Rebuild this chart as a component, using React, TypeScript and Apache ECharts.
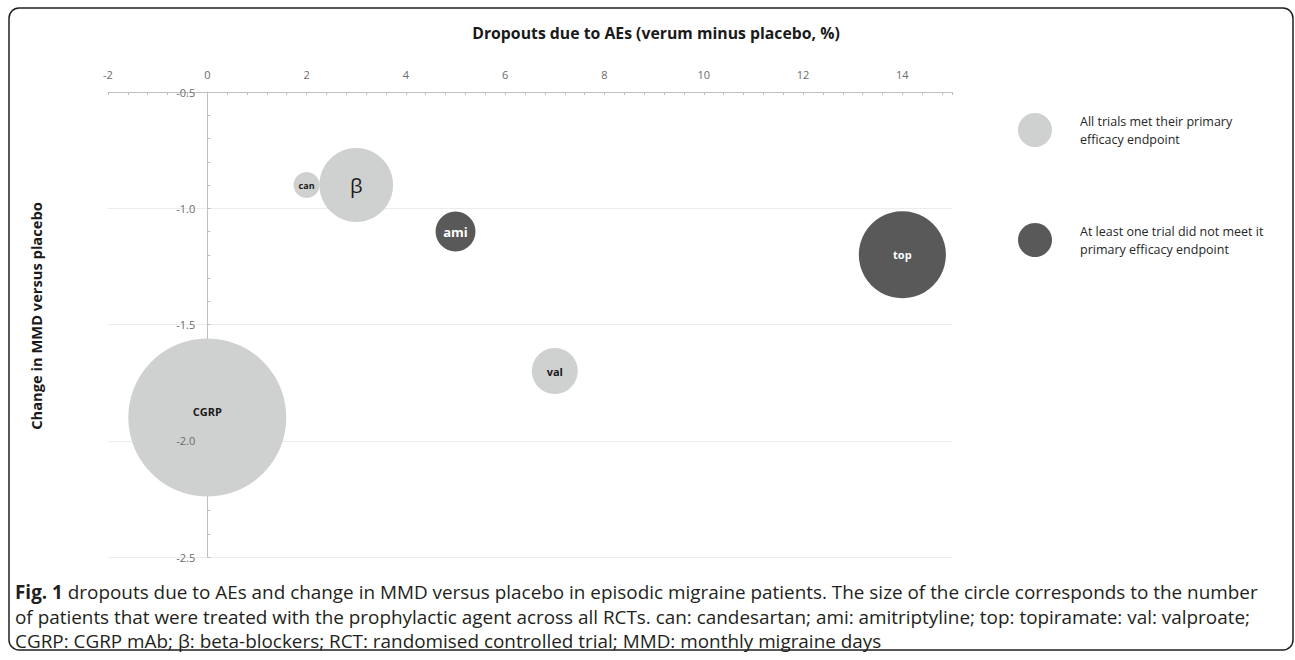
import React, { useEffect, useRef } from "react";
import * as echarts from "echarts";

// ---- data ----
const agents = ["can", "β", "ami", "top", "val", "CGRP"];
const dropoutsDiff = [2, 3, 5, 14, 7, 0]; // verum minus placebo, %
const mmdChange = [-0.9, -0.9, -1.1, -1.2, -1.7, -1.9];
const patients = [300, 2400, 700, 3350, 930, 11000]; // estimated, relative bubble area
const metEndpoint = [true, true, false, false, true, true];

const X_MIN = -2;
const X_MAX = 15;
const Y_MIN = -2.5;
const Y_MAX = -0.5;

const seriesNames = [
  "All trials met their primary efficacy endpoint",
  "At least one trial did not meet it primary efficacy endpoint",
];
const legendLines: Record<string, string> = {
  [seriesNames[0]]: "All trials met their primary\nefficacy endpoint",
  [seriesNames[1]]: "At least one trial did not meet it\nprimary efficacy endpoint",
};

const xTitle = "Dropouts due to AEs (verum minus placebo, %)";
const yTitle = "Change in MMD versus placebo";
const captionLines = [
  " dropouts due to AEs and change in MMD versus placebo in episodic migraine patients. The size of the circle corresponds to the number",
  "of patients that were treated with the prophylactic agent across all RCTs. can: candesartan; ami: amitriptyline; top: topiramate: val: valproate;",
  "CGRP: CGRP mAb; β: beta-blockers; RCT: randomised controlled trial; MMD: monthly migraine days",
];

// ---- styles ----
const LIGHT = "#cfd1d0";
const DARK = "#595959";
const FONT = "'Open Sans', 'Noto Sans', sans-serif";
const CAP = 18.9;
const GRID_LEFT = 108;
const GRID_RIGHT = 343;
const labelStyles: Record<string, any> = {
  can: { fontSize: 9, fontWeight: "bold", color: "#1a1a1a" },
  "β": { fontSize: 20, fontWeight: "normal", color: "#1a1a1a" },
  ami: { fontSize: 13, fontWeight: "bold", color: "#ffffff" },
  top: { fontSize: 11, fontWeight: "bold", color: "#ffffff" },
  val: { fontSize: 11, fontWeight: "bold", color: "#1a1a1a" },
  CGRP: { fontSize: 11, fontWeight: "bold", color: "#1a1a1a", offset: [0, -6] },
};
const SIZE_K = 0.753;

function buildData(met: boolean) {
  const out: any[] = [];
  agents.forEach((name, i) => {
    if (metEndpoint[i] !== met) return;
    out.push({
      name,
      value: [dropoutsDiff[i], mmdChange[i], patients[i]],
      label: { show: true, position: "inside", formatter: name, fontFamily: FONT, ...labelStyles[name] },
    });
  });
  return out;
}

export default function App() {
  const ref = useRef<HTMLDivElement>(null);
  useEffect(() => {
    if (!ref.current) return;
    const chart = echarts.init(ref.current, undefined, { renderer: "svg" });
    const axisGray = "#bfbfbf";
    const gridWidth = 1295 - GRID_LEFT - GRID_RIGHT;
    // distance from grid's left edge to x = 0 (where the value labels sit)
    const zeroOffset = ((0 - X_MIN) / (X_MAX - X_MIN)) * gridWidth;
    const option: any = {
      animation: false,
      backgroundColor: "#ffffff",
      grid: { left: GRID_LEFT, right: GRID_RIGHT, top: 92, bottom: 103, containLabel: false },
      xAxis: {
        type: "value",
        position: "top",
        min: X_MIN,
        max: X_MAX,
        interval: 2,
        axisLine: { show: true, onZero: false, lineStyle: { color: axisGray, width: 1 } },
        axisTick: { show: true, inside: true, length: 3, lineStyle: { color: axisGray } },
        minorTick: { show: true, splitNumber: 5, length: 3, lineStyle: { color: axisGray } },
        axisLabel: { showMaxLabel: false, margin: 12, color: "#6b6b6b", fontSize: 11, fontFamily: FONT },
        splitLine: { show: false },
      },
      yAxis: [
        {
          type: "value",
          position: "left",
          min: Y_MIN,
          max: Y_MAX,
          interval: 0.5,
          z: 0,
          axisLine: { show: true, onZero: true, onZeroAxisIndex: 0, lineStyle: { color: axisGray, width: 1 } },
          axisTick: { show: true, inside: true, length: 3, lineStyle: { color: axisGray } },
          minorTick: { show: true, splitNumber: 5, length: 3, lineStyle: { color: axisGray } },
          axisLabel: { show: false },
          splitLine: { show: true, lineStyle: { color: "#ececec", width: 1 } },
        },
        {
          type: "value",
          position: "left",
          min: Y_MIN,
          max: Y_MAX,
          interval: 0.5,
          z: 10,
          offset: -zeroOffset,
          axisLine: { show: false, onZero: false },
          axisTick: { show: false },
          minorTick: { show: false },
          splitLine: { show: false },
          axisLabel: {
            margin: 12,
            color: "#6b6b6b",
            fontSize: 11,
            fontFamily: FONT,
            formatter: (v: number) => v.toFixed(1),
          },
        },
      ],
      legend: {
        orient: "vertical",
        left: 1013,
        top: 107,
        itemWidth: 34,
        itemHeight: 34,
        itemGap: 74,
        icon: "circle",
        selectedMode: false,
        data: seriesNames,
        formatter: (name: string) => legendLines[name],
        textStyle: { fontSize: 12.5, lineHeight: 18, color: "#262626", fontFamily: FONT, padding: [0, 0, 0, 23] },
      },
      series: [
        {
          name: seriesNames[0],
          type: "scatter",
          xAxisIndex: 0,
          yAxisIndex: 0,
          symbol: "circle",
          symbolSize: (v: number[]) => 2 * SIZE_K * Math.sqrt(v[2]),
          itemStyle: { color: LIGHT, opacity: 1 },
          emphasis: { disabled: true },
          data: buildData(true),
        },
        {
          name: seriesNames[1],
          type: "scatter",
          xAxisIndex: 0,
          yAxisIndex: 0,
          symbol: "circle",
          symbolSize: (v: number[]) => 2 * SIZE_K * Math.sqrt(v[2]),
          itemStyle: { color: DARK, opacity: 1 },
          emphasis: { disabled: true },
          data: buildData(false),
        },
      ],
      graphic: [
        {
          type: "rect",
          shape: { x: 9, y: 8, width: 1284, height: 642, r: 10 },
          style: { fill: "none", stroke: "#231f20", lineWidth: 1.5 },
          silent: true,
        },
        {
          type: "text",
          x: 656,
          y: 33,
          style: { text: xTitle, align: "center", verticalAlign: "middle", fontSize: 15.8, fontWeight: "bold", fill: "#1a1a1a", fontFamily: FONT },
        },
        {
          type: "text",
          x: 36,
          y: 316,
          rotation: Math.PI / 2,
          style: { text: yTitle, align: "center", verticalAlign: "middle", fontSize: 14.7, fontWeight: "bold", fill: "#1a1a1a", fontFamily: FONT },
        },
        {
          type: "text",
          x: 15,
          y: 592,
          style: {
            text: "{b|Fig. 1}{n|" + captionLines[0] + "}",
            verticalAlign: "middle",
            rich: {
              b: { fontSize: CAP, fontWeight: "bold", fill: "#231f20", fontFamily: FONT },
              n: { fontSize: CAP, fill: "#231f20", fontFamily: FONT },
            },
          },
        },
        {
          type: "text",
          x: 15,
          y: 617,
          style: { text: captionLines[1], verticalAlign: "middle", fontSize: CAP, fill: "#231f20", fontFamily: FONT },
        },
        {
          type: "text",
          x: 15,
          y: 641,
          style: { text: captionLines[2], verticalAlign: "middle", fontSize: CAP, fill: "#231f20", fontFamily: FONT },
        },
      ],
    };
    chart.setOption(option);
    return () => chart.dispose();
  }, []);
  return <div ref={ref} style={{ position: "absolute", left: 0, top: 0, width: 1295, height: 660 }} />;
}
